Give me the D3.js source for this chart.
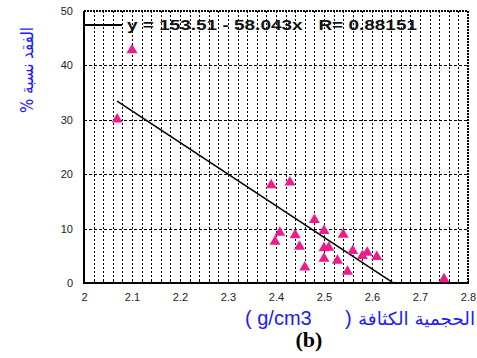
<!DOCTYPE html>
<html><head><meta charset="utf-8">
<script src="https://cdn.jsdelivr.net/npm/d3@7"></script>
<style>html,body{margin:0;padding:0;background:#fff;}svg{display:block;}</style>
</head><body>
<script>
// Data
const densityX = [2.069, 2.10, 2.39, 2.429, 2.48, 2.408, 2.398, 2.44, 2.449, 2.50, 2.54, 2.50, 2.51, 2.50, 2.528, 2.46, 2.549, 2.56, 2.58, 2.59, 2.61, 2.75];
const lossY    = [30.1, 42.8, 18.0, 18.5, 11.6, 9.25, 7.6, 8.8, 6.7, 9.6, 8.9, 6.4, 6.5, 4.5, 4.1, 2.9, 2.1, 5.9, 5.0, 5.6, 4.8, 0.7];
const fitIntercept = 153.51, fitSlope = -58.043;
const fitRange = [2.069, 2.645];
const xTicks = [2, 2.1, 2.2, 2.3, 2.4, 2.5, 2.6, 2.7, 2.8];
const yTicks = [0, 10, 20, 30, 40, 50];
const legendText = "y = 153.51 - 58.043x   R= 0.88151";
const yLabel = "% الفقد نسبة";
const xLabelUnitOpen = "( g/cm3";
const xLabelUnitClose = ")";
const xLabelAr = "الحجمية الكثافة";
const panelLabel = "(b)";

const W = 477, H = 358;
const m = {l: 84, r: 468, t: 11, b: 283};
const svg = d3.select("body").append("svg").attr("width", W).attr("height", H);
const x = d3.scaleLinear().domain([2, 2.8]).range([m.l, m.r]);
const y = d3.scaleLinear().domain([0, 50]).range([m.b, m.t]);
const px = v => Math.round(v) + 0.5;

// minor vertical dotted grid
const minorX = d3.range(0, 41).map(i => 2 + i * 0.02);
svg.append("g").attr("shape-rendering", "crispEdges").selectAll("line").data(minorX.slice(1, -1)).join("line")
  .attr("x1", d => px(x(d))).attr("x2", d => px(x(d))).attr("y1", m.t).attr("y2", m.b)
  .attr("stroke", "#000").attr("stroke-width", 1).attr("stroke-dasharray", "2,2");
// horizontal dashed grid
svg.append("g").attr("shape-rendering", "crispEdges").selectAll("line").data(yTicks.slice(1, -1)).join("line")
  .attr("x1", m.l).attr("x2", m.r).attr("y1", d => px(y(d))).attr("y2", d => px(y(d)))
  .attr("stroke", "#000").attr("stroke-width", 1).attr("stroke-dasharray", "3,2");

// bottom axis
const xAxis = d3.axisBottom(x).tickValues(xTicks).tickSize(0).tickPadding(10)
  .tickFormat(d3.format("~g"));
const gx = svg.append("g").attr("transform", `translate(0,${m.b})`).call(xAxis);
gx.select(".domain").remove();
gx.selectAll("text").attr("font-family", "Liberation Sans, Arial, sans-serif").attr("font-size", 11).attr("fill", "#222");
svg.append("g").attr("shape-rendering", "crispEdges").selectAll("line").data(minorX).join("line")
  .attr("x1", d => px(x(d))).attr("x2", d => px(x(d))).attr("y1", m.b).attr("y2", m.b - 3)
  .attr("stroke", "#000").attr("stroke-width", 1);

const yAxis = d3.axisLeft(y).tickValues(yTicks).tickSize(0).tickPadding(11);
const gy = svg.append("g").attr("transform", `translate(${m.l},0)`).call(yAxis);
gy.select(".domain").remove();
gy.selectAll("text").attr("font-family", "Liberation Sans, Arial, sans-serif").attr("font-size", 11).attr("fill", "#222");

// frame
svg.append("line").attr("x1", m.l).attr("x2", m.r).attr("y1", m.t).attr("y2", m.t)
  .attr("stroke", "#000").attr("stroke-width", 2).attr("stroke-dasharray", "2,1");
svg.append("line").attr("x1", m.r).attr("x2", m.r).attr("y1", m.t).attr("y2", m.b)
  .attr("stroke", "#000").attr("stroke-width", 2).attr("stroke-dasharray", "2,1");
svg.append("line").attr("x1", m.l).attr("x2", m.l).attr("y1", m.t).attr("y2", m.b)
  .attr("stroke", "#000").attr("stroke-width", 2);
svg.append("line").attr("x1", m.l - 1).attr("x2", m.r + 1).attr("y1", m.b).attr("y2", m.b)
  .attr("stroke", "#000").attr("stroke-width", 2);

// regression line
const line = d3.line().x(d => x(d)).y(d => y(fitIntercept + fitSlope * d));
svg.append("path").datum(fitRange).attr("d", line).attr("fill", "none")
  .attr("stroke", "#000").attr("stroke-width", 1.6);

// points
const tri = d3.symbol().type(d3.symbolTriangle).size(52);
svg.append("g").selectAll("path").data(densityX).join("path")
  .attr("d", tri)
  .attr("transform", (d, i) => `translate(${x(d)},${y(lossY[i])})`)
  .attr("fill", "#ec1c8c");

// legend
svg.append("line").attr("x1", m.l).attr("x2", m.l + 38).attr("y1", 25).attr("y2", 25)
  .attr("stroke", "#000").attr("stroke-width", 2);
svg.append("text").attr("x", 127).attr("y", 30)
  .attr("font-family", "Liberation Sans, Arial, sans-serif").attr("font-weight", "bold")
  .attr("font-size", 14.5).attr("fill", "#111").style("white-space", "pre")
  .attr("textLength", 290).attr("lengthAdjust", "spacingAndGlyphs")
  .text(legendText);

// y label
svg.append("text").attr("transform", "translate(33,70) rotate(-90)")
  .attr("text-anchor", "middle").attr("font-family", "DejaVu Sans, sans-serif")
  .attr("font-size", 17).attr("fill", "#1a1aff")
  .attr("textLength", 86).attr("lengthAdjust", "spacingAndGlyphs").text(yLabel);

// x label
svg.append("text").attr("x", 245).attr("y", 325).attr("direction", "ltr")
  .attr("font-family", "Liberation Sans, Arial, sans-serif").attr("font-size", 20)
  .attr("fill", "#1a1aff").style("white-space", "pre").text(xLabelUnitOpen);
svg.append("text").attr("x", 345).attr("y", 325).attr("direction", "ltr")
  .attr("font-family", "Liberation Sans, Arial, sans-serif").attr("font-size", 20)
  .attr("fill", "#1a1aff").text(xLabelUnitClose);
svg.append("text").attr("x", 358).attr("y", 325)
  .attr("font-family", "DejaVu Sans, sans-serif").attr("font-size", 18)
  .attr("fill", "#1a1aff")
  .attr("textLength", 117).attr("lengthAdjust", "spacingAndGlyphs").text(xLabelAr);

svg.append("text").attr("x", 309).attr("y", 347).attr("text-anchor", "middle")
  .attr("font-family", "Liberation Serif, Times New Roman, serif").attr("font-weight", "bold")
  .attr("font-size", 22).attr("fill", "#000").text(panelLabel);
</script>
</body></html>
